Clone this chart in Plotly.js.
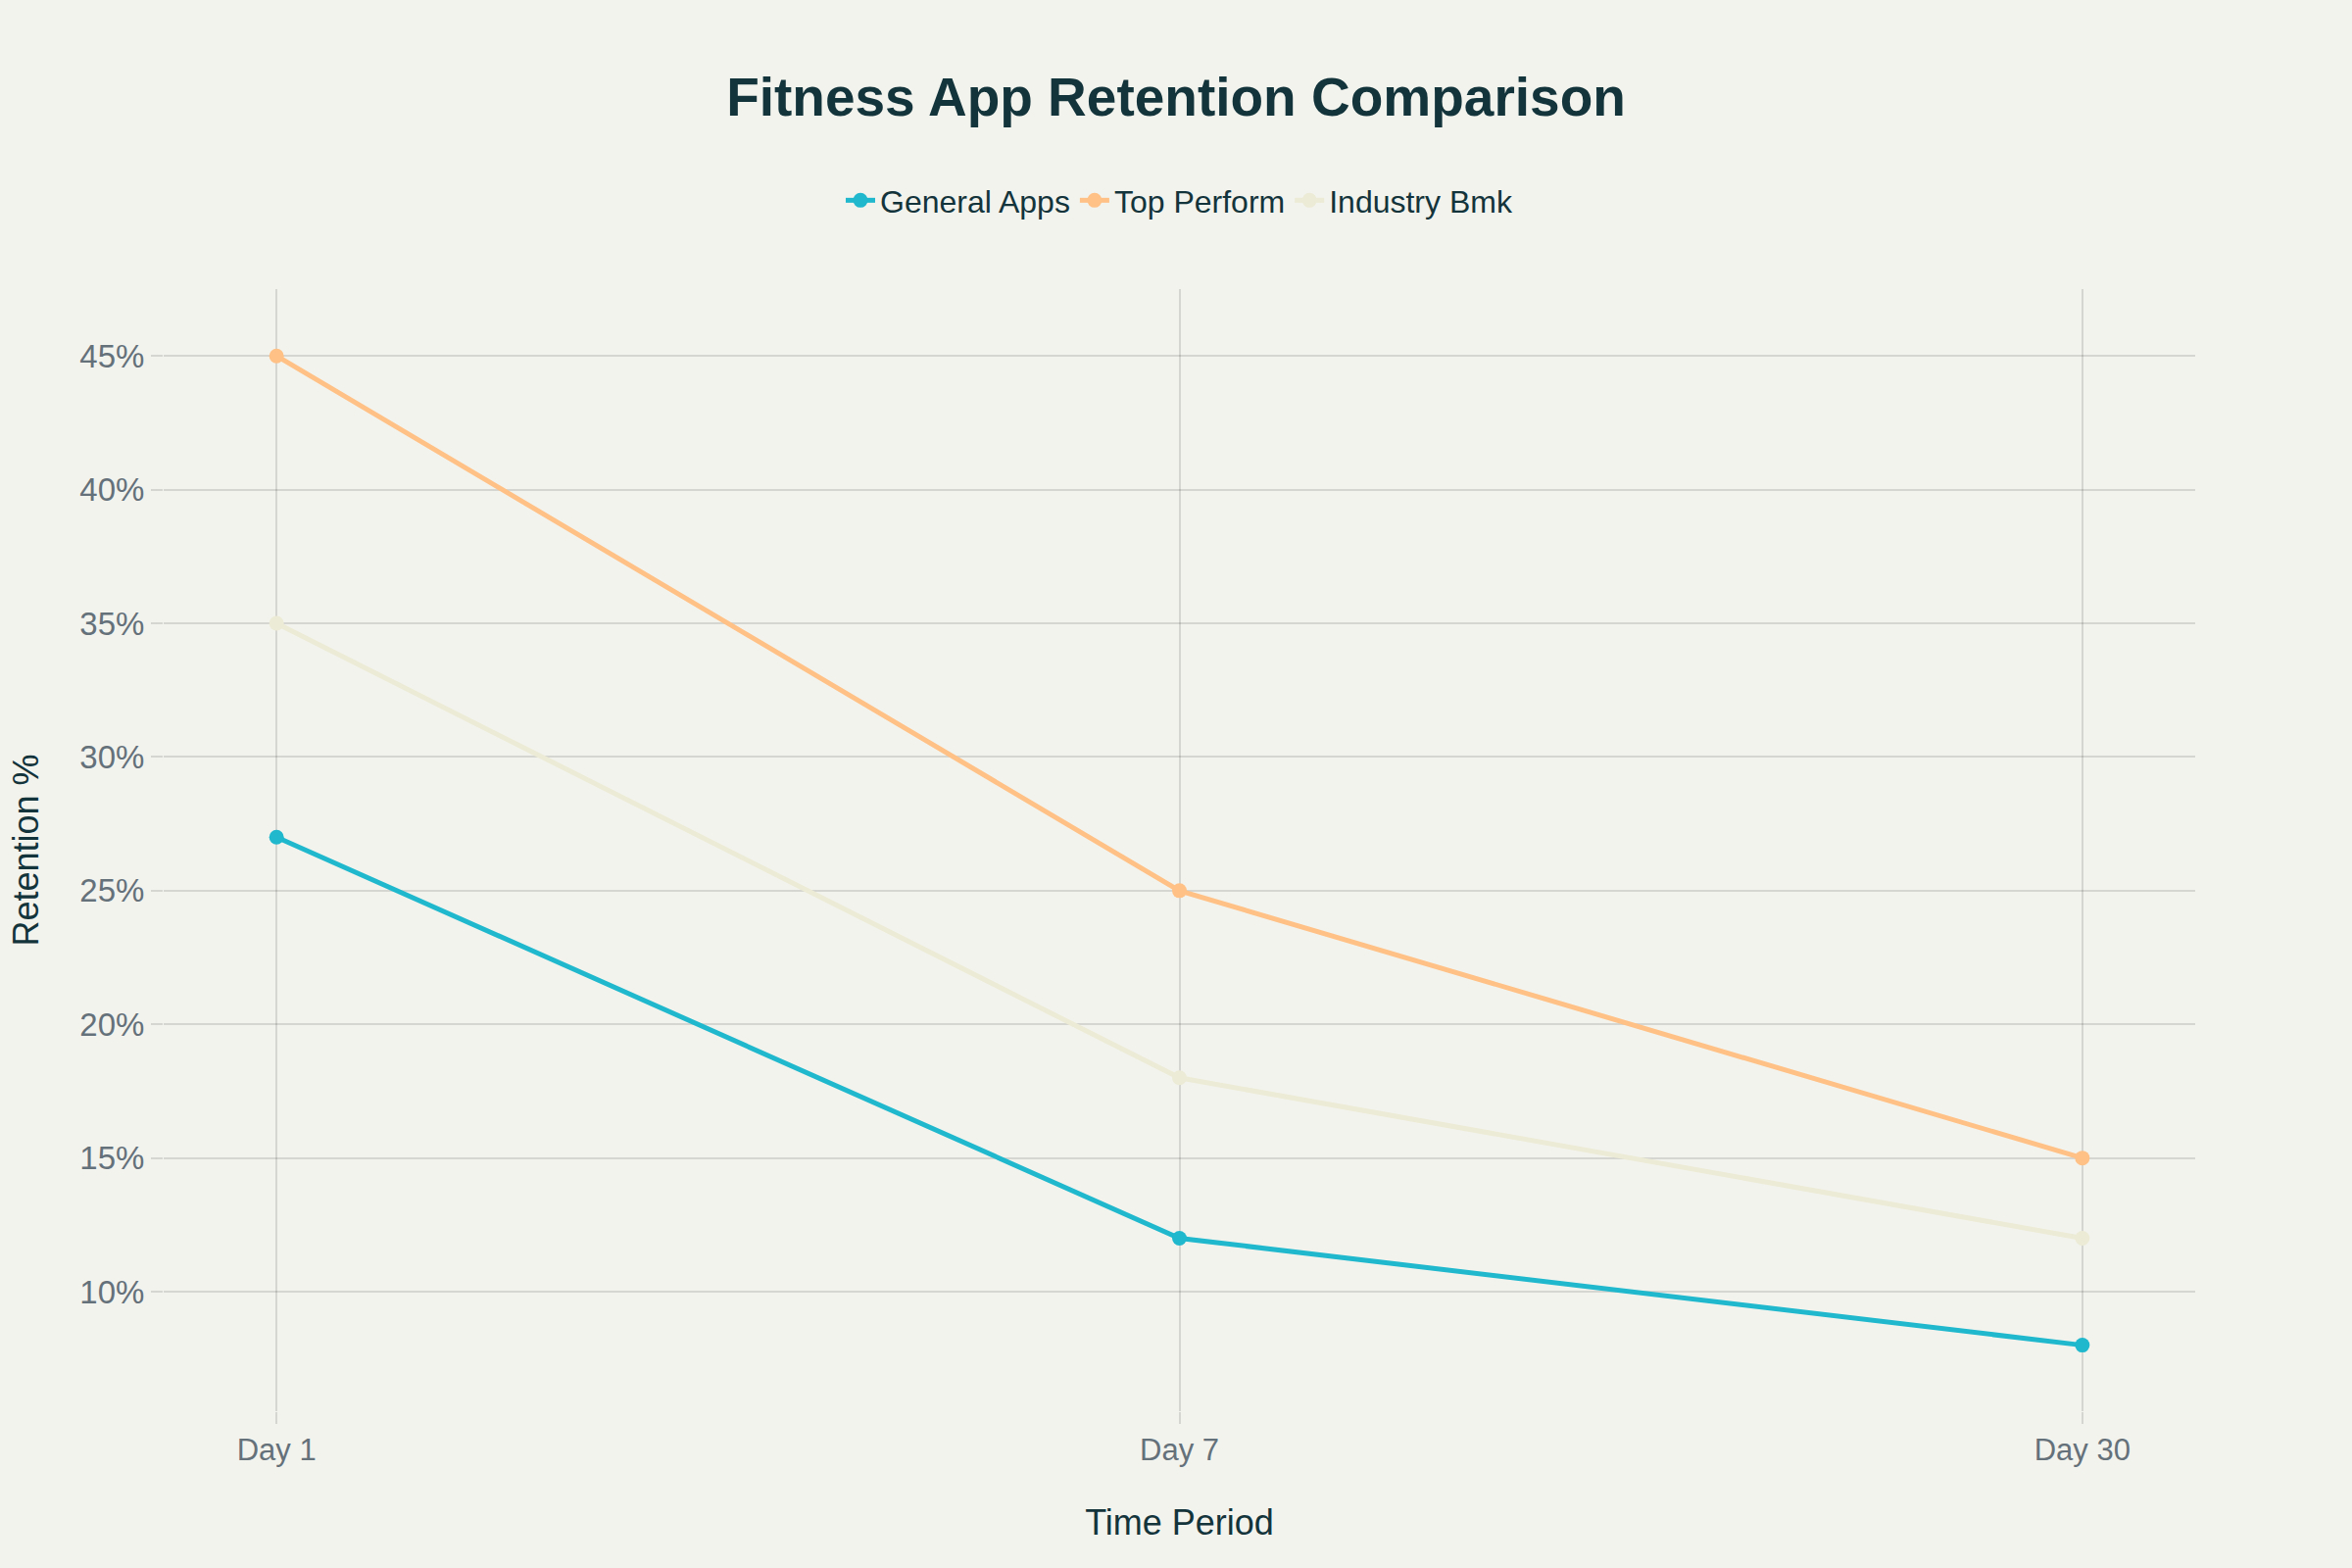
<!DOCTYPE html>
<html>
<head>
<meta charset="utf-8">
<script src="https://cdn.plot.ly/plotly-3.0.1.min.js"></script>
<style>html,body{margin:0;padding:0;background:#F3F3EE;}</style>
</head>
<body>
<div id="chart" style="width:2400px;height:1600px;"></div>
<script>
const periods = ["Day 1", "Day 7", "Day 30"];
const generalApps = [27, 12, 8];
const topPerform = [45, 25, 15];
const industryBmk = [35, 18, 12];
const seriesNames = ["General Apps", "Top Perform", "Industry Bmk"];
const seriesColors = ["#1FB8CD", "#FFC185", "#ECEBD5"];

const FONT = "Liberation Sans, Arial, sans-serif";
const allSeries = [generalApps, topPerform, industryBmk];
const traces = allSeries.map((vals, i) => ({
  type: "scatter",
  mode: "lines+markers",
  x: periods,
  y: vals,
  name: seriesNames[i],
  line: {color: seriesColors[i], width: 5},
  marker: {color: seriesColors[i], size: 15},
  cliponaxis: false
}));

const layout = {
  width: 2400, height: 1600,
  paper_bgcolor: "#F3F3EE",
  plot_bgcolor: "#F3F3EE",
  font: {family: FONT, color: "#13343B", size: 32},
  margin: {l: 167, r: 160, t: 295, b: 160},
  title: {
    text: "<b>Fitness App Retention Comparison</b>",
    font: {family: FONT, size: 55, color: "#13343B"},
    x: 0.5, xanchor: "center",
    y: 0.938, yanchor: "middle", yref: "container"
  },
  legend: {
    orientation: "h",
    x: 0.5, xanchor: "center",
    y: 1.079, yanchor: "middle",
    font: {family: FONT, size: 32, color: "#13343B"},
    bgcolor: "rgba(0,0,0,0)"
  },
  xaxis: {
    type: "category",
    range: [-0.125, 2.125],
    showgrid: true,
    gridcolor: "rgba(0,0,0,0.12)",
    gridwidth: 2,
    zeroline: false,
    showline: false,
    ticks: "outside",
    ticklen: 12,
    tickwidth: 2,
    tickcolor: "rgba(0,0,0,0.12)",
    tickfont: {family: FONT, size: 31, color: "#65717A"},
    title: {text: "Time Period", font: {family: FONT, size: 36, color: "#13343B"}, standoff: 44}
  },
  yaxis: {
    range: [5.53, 47.5],
    dtick: 5,
    tick0: 0,
    ticksuffix: "%",
    showgrid: true,
    gridcolor: "rgba(0,0,0,0.12)",
    gridwidth: 2,
    zeroline: false,
    showline: false,
    ticks: "outside",
    ticklen: 12,
    tickwidth: 2,
    tickcolor: "rgba(0,0,0,0.12)",
    tickfont: {family: FONT, size: 33, color: "#65717A"},
    title: {text: "Retention %", font: {family: FONT, size: 36, color: "#13343B"}, standoff: 30}
  },
  hovermode: false
};

Plotly.newPlot("chart", traces, layout, {displayModeBar: false, staticPlot: true});
</script>
</body>
</html>
